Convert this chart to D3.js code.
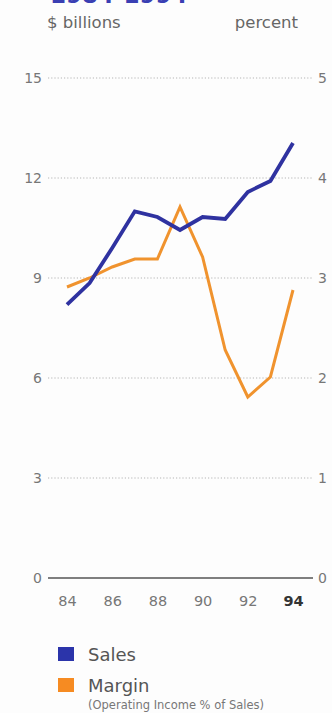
<!DOCTYPE html>
<html>
<head>
<meta charset="utf-8">
<script src="https://cdn.jsdelivr.net/npm/d3@7/dist/d3.min.js"></script>
<style>
  html, body { margin: 0; padding: 0; background: #fdfdfd; }
  svg { display: block; }
  text { font-family: "DejaVu Sans", "Liberation Sans", sans-serif; }
</style>
</head>
<body>
<svg id="chart" width="332" height="713"></svg>
<script>
// Fiscal years 1984–1994
const years = [84, 85, 86, 87, 88, 89, 90, 91, 92, 93, 94];
// Sales, $ billions
const sales = [8.2, 8.85, 9.9, 11.0, 10.83, 10.44, 10.83, 10.77, 11.58, 11.91, 13.05];
// Operating margin, percent of sales
const margin = [2.91, 3.0, 3.11, 3.19, 3.19, 3.71, 3.21, 2.28, 1.81, 2.01, 2.88];

const leftTicks = [0, 3, 6, 9, 12, 15];
const rightTicks = [0, 1, 2, 3, 4, 5];
const xTickYears = [84, 86, 88, 90, 92, 94];

const blue = "#2f32a0";
const orange = "#f0932e";
const font = "DejaVu Sans, Liberation Sans, sans-serif";

const svg = d3.select("#chart");

const x = d3.scaleLinear().domain([84, 94]).range([67, 293]);
const yL = d3.scaleLinear().domain([0, 15]).range([578, 78]);
const yR = d3.scaleLinear().domain([0, 5]).range([578, 78]);
const gridX0 = 48, gridX1 = 313;

// Title (runs off the top edge)
svg.append("text")
  .attr("x", 50).attr("y", 3)
  .attr("font-size", 23).attr("font-weight", "bold")
  .attr("fill", "#3a3fb3")
  .text("1984-1994");

// Axis unit captions
svg.append("text")
  .attr("x", 47).attr("y", 28)
  .attr("font-size", 16.5).attr("fill", "#666")
  .text("$ billions");
svg.append("text")
  .attr("x", 298).attr("y", 28)
  .attr("text-anchor", "end")
  .attr("font-size", 16.5).attr("fill", "#666")
  .text("percent");

// Dotted gridlines (zero is drawn as the baseline)
svg.append("g")
  .selectAll("line")
  .data(leftTicks.filter(d => d > 0))
  .join("line")
  .attr("x1", gridX0).attr("x2", gridX1)
  .attr("y1", d => yL(d)).attr("y2", d => yL(d))
  .attr("stroke", "#b5b5b5")
  .attr("stroke-width", 1)
  .attr("stroke-dasharray", "1.2,2");

// Baseline
svg.append("line")
  .attr("x1", gridX0).attr("x2", gridX1)
  .attr("y1", yL(0)).attr("y2", yL(0))
  .attr("stroke", "#555").attr("stroke-width", 1.4);

// Left axis labels
const leftAxis = d3.axisLeft(yL).tickValues(leftTicks).tickSize(0).tickPadding(0)
  .tickFormat(d3.format("d"));
const gL = svg.append("g").attr("transform", "translate(42,0)").call(leftAxis);
gL.select(".domain").remove();
gL.selectAll("text")
  .attr("font-size", 14).attr("fill", "#777").attr("font-family", font);

// Right axis labels
const rightAxis = d3.axisRight(yR).tickValues(rightTicks).tickSize(0).tickPadding(0)
  .tickFormat(d3.format("d"));
const gR = svg.append("g").attr("transform", "translate(318,0)").call(rightAxis);
gR.select(".domain").remove();
gR.selectAll("text")
  .attr("font-size", 14).attr("fill", "#777").attr("font-family", font);

// Year labels
const xAxis = d3.axisBottom(x).tickValues(xTickYears).tickSize(0).tickPadding(0)
  .tickFormat(d => String(d));
const gX = svg.append("g").attr("transform", "translate(0,596)").call(xAxis);
gX.select(".domain").remove();
gX.selectAll("text")
  .attr("font-size", 14.5)
  .attr("fill", d => d === 94 ? "#333" : "#777")
  .attr("font-weight", d => d === 94 ? "bold" : "normal")
  .attr("font-family", font);

// Lines: margin first so sales sits on top
const marginLine = d3.line().x((d, i) => x(years[i])).y(d => yR(d));
const salesLine = d3.line().x((d, i) => x(years[i])).y(d => yL(d));

svg.append("path")
  .datum(margin)
  .attr("d", marginLine)
  .attr("fill", "none")
  .attr("stroke", orange)
  .attr("stroke-width", 3)
  .attr("stroke-linejoin", "miter");

svg.append("path")
  .datum(sales)
  .attr("d", salesLine)
  .attr("fill", "none")
  .attr("stroke", blue)
  .attr("stroke-width", 3.8)
  .attr("stroke-linejoin", "miter");

// Legend
const legend = [
  { label: "Sales", color: "#2b34aa", y: 647 },
  { label: "Margin", color: "#f68b22", y: 678 }
];
const lg = svg.append("g");
lg.selectAll("rect")
  .data(legend)
  .join("rect")
  .attr("x", 58).attr("y", d => d.y)
  .attr("width", 16).attr("height", 14)
  .attr("fill", d => d.color);
lg.selectAll("text.lab")
  .data(legend)
  .join("text")
  .attr("class", "lab")
  .attr("x", 88).attr("y", d => d.y + 14)
  .attr("font-size", 18).attr("fill", "#555")
  .text(d => d.label);
svg.append("text")
  .attr("x", 88).attr("y", 709)
  .attr("font-size", 11.5).attr("fill", "#777")
  .text("(Operating Income % of Sales)");
</script>
</body>
</html>
